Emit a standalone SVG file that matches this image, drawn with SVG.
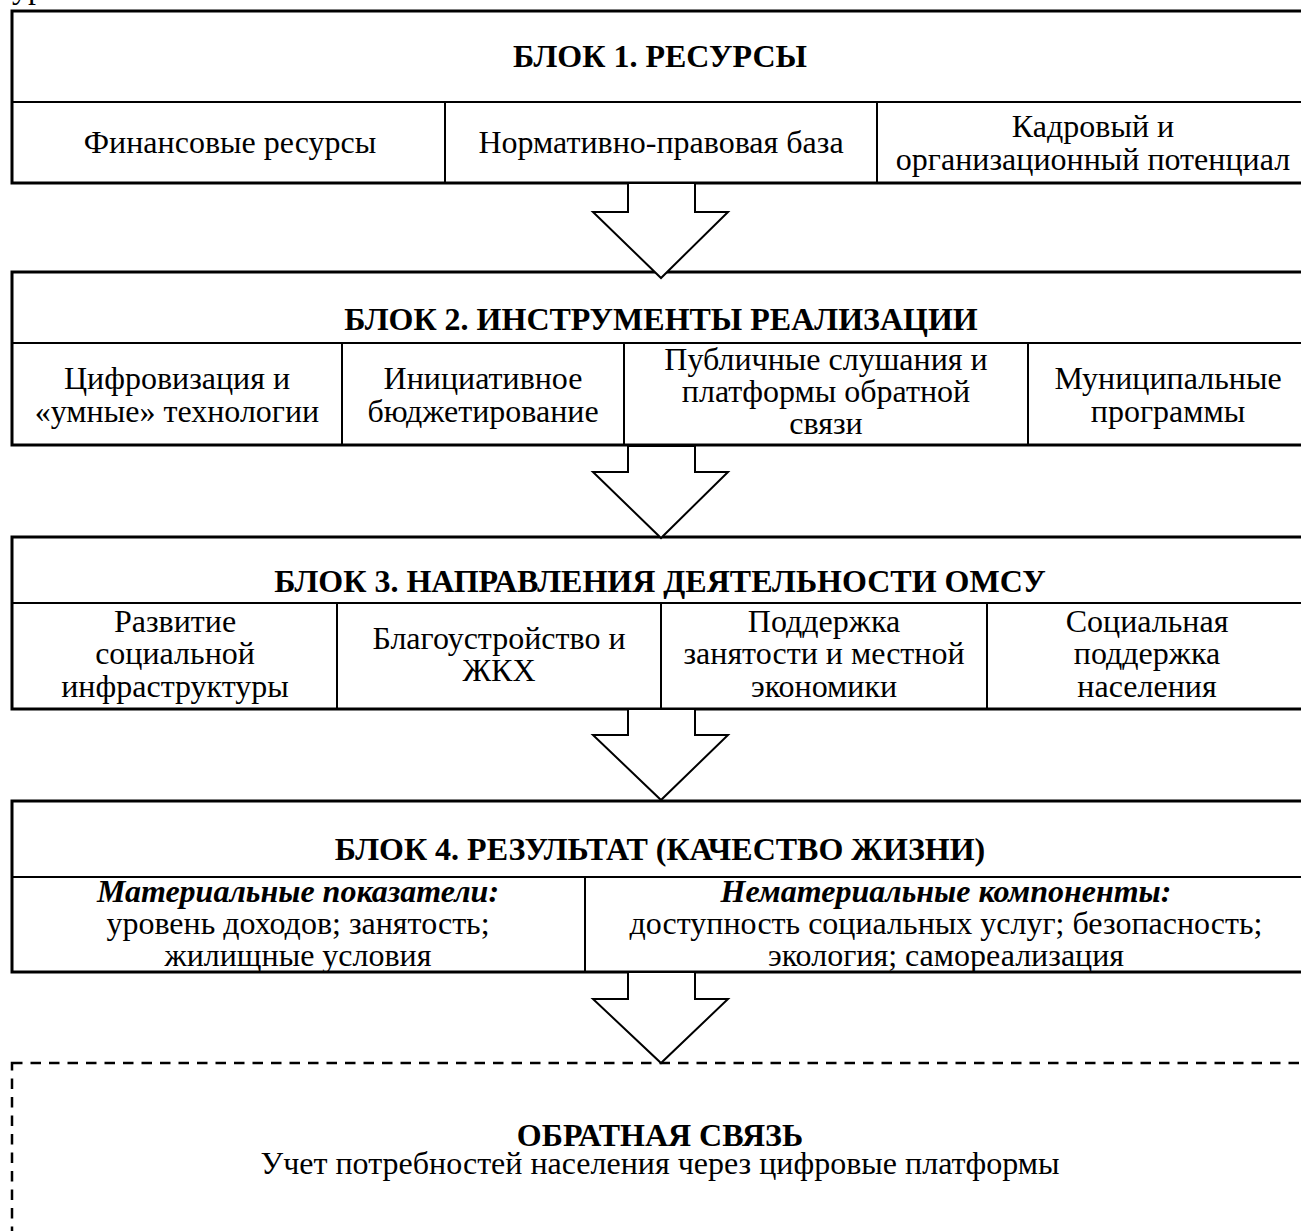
<svg xmlns="http://www.w3.org/2000/svg" width="1301" height="1231" viewBox="0 0 1301 1231">
<style>
text{font-family:"Liberation Serif","Times New Roman",serif;font-size:32px;fill:#000;text-anchor:middle}
.t{font-weight:bold}
.bi{font-weight:bold;font-style:italic}
.box{fill:#fff;stroke:#000;stroke-width:3}
.ln{stroke:#000;stroke-width:2;fill:none}
.arr{fill:#fff;stroke:#000;stroke-width:2;stroke-linejoin:miter}
.dash{fill:#fff;stroke:#000;stroke-width:2.5;stroke-dasharray:10.5 8}
</style>
<text x="12" y="-2" style="text-anchor:start">ур</text>
<g id="block1">
<rect class="box" x="12" y="11" width="1294" height="172"/>
<line class="ln" x1="12" y1="102" x2="1306" y2="102"/>
<line class="ln" x1="445" y1="102" x2="445" y2="183"/>
<line class="ln" x1="877" y1="102" x2="877" y2="183"/>
<text class="t" x="660" y="67">БЛОК 1. РЕСУРСЫ</text>
<text x="230" y="153">Финансовые ресурсы</text>
<text x="661" y="153">Нормативно-правовая база</text>
<text x="1093" y="137">Кадровый и</text>
<text x="1093" y="170">организационный потенциал</text>
</g>
<g id="block2">
<rect class="box" x="12" y="272" width="1294" height="173"/>
<line class="ln" x1="12" y1="343" x2="1306" y2="343"/>
<line class="ln" x1="342" y1="343" x2="342" y2="445"/>
<line class="ln" x1="624" y1="343" x2="624" y2="445"/>
<line class="ln" x1="1028" y1="343" x2="1028" y2="445"/>
<text class="t" x="661" y="330">БЛОК 2. ИНСТРУМЕНТЫ РЕАЛИЗАЦИИ</text>
<text x="177" y="389">Цифровизация и</text>
<text x="177" y="422">«умные» технологии</text>
<text x="483" y="389">Инициативное</text>
<text x="483" y="422">бюджетирование</text>
<text x="826" y="370">Публичные слушания и</text>
<text x="826" y="402">платформы обратной</text>
<text x="826" y="434">связи</text>
<text x="1168" y="389">Муниципальные</text>
<text x="1168" y="422">программы</text>
</g>
<g id="block3">
<rect class="box" x="12" y="537" width="1294" height="172"/>
<line class="ln" x1="12" y1="603" x2="1306" y2="603"/>
<line class="ln" x1="337" y1="603" x2="337" y2="709"/>
<line class="ln" x1="661" y1="603" x2="661" y2="709"/>
<line class="ln" x1="987" y1="603" x2="987" y2="709"/>
<text class="t" x="660" y="592">БЛОК 3. НАПРАВЛЕНИЯ ДЕЯТЕЛЬНОСТИ ОМСУ</text>
<text x="175" y="632">Развитие</text>
<text x="175" y="664">социальной</text>
<text x="175" y="697">инфраструктуры</text>
<text x="499" y="649">Благоустройство и</text>
<text x="499" y="681">ЖКХ</text>
<text x="824" y="632">Поддержка</text>
<text x="824" y="664">занятости и местной</text>
<text x="824" y="697">экономики</text>
<text x="1147" y="632">Социальная</text>
<text x="1147" y="664">поддержка</text>
<text x="1147" y="697">населения</text>
</g>
<g id="block4">
<rect class="box" x="12" y="801" width="1294" height="171"/>
<line class="ln" x1="12" y1="877" x2="1306" y2="877"/>
<line class="ln" x1="585" y1="877" x2="585" y2="972"/>
<text class="t" x="660" y="860">БЛОК 4. РЕЗУЛЬТАТ (КАЧЕСТВО ЖИЗНИ)</text>
<text class="bi" x="298" y="902">Материальные показатели:</text>
<text x="298" y="934">уровень доходов; занятость;</text>
<text x="298" y="966">жилищные условия</text>
<text class="bi" x="946" y="902">Нематериальные компоненты:</text>
<text x="946" y="934">доступность социальных услуг; безопасность;</text>
<text x="946" y="966">экология; самореализация</text>
</g>
<g id="feedback">
<rect class="dash" x="12" y="1063" width="1310" height="220"/>
<text class="t" x="660" y="1146">ОБРАТНАЯ СВЯЗЬ</text>
<text x="660" y="1174">Учет потребностей населения через цифровые платформы</text>
</g>
<g id="connectors">
<polygon class="arr" points="628,183 695,183 695,212 728,212 661,278 593,212 628,212"/>
<polygon class="arr" points="628,446 695,446 695,472 728,472 661,538 593,472 628,472"/>
<polygon class="arr" points="628,709 695,709 695,735 728,735 661,800 593,735 628,735"/>
<polygon class="arr" points="628,972 695,972 695,999 728,999 661,1063 593,999 628,999"/>
</g>
</svg>
